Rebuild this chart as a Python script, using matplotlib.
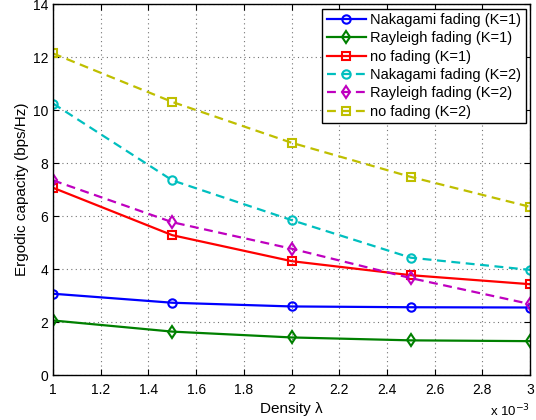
import matplotlib.pyplot as plt

plt.rcParams['font.family'] = ['Liberation Sans', 'DejaVu Sans']

# density lambda, in units of 1e-3
density = [1.0, 1.5, 2.0, 2.5, 3.0]

nakagami_k1 = [3.07, 2.73, 2.59, 2.56, 2.55]
rayleigh_k1 = [2.06, 1.64, 1.42, 1.31, 1.28]
nofading_k1 = [7.07, 5.28, 4.30, 3.77, 3.43]
nakagami_k2 = [10.25, 7.35, 5.85, 4.43, 3.97]
rayleigh_k2 = [7.35, 5.77, 4.77, 3.66, 2.68]
nofading_k2 = [12.14, 10.31, 8.77, 7.48, 6.35]

fig = plt.figure(figsize=(5.36, 4.2), dpi=100)
ax = fig.add_axes([0.099, 0.107, 0.890, 0.883])

mk = dict(markersize=6, markerfacecolor='none', markeredgewidth=1.5, linewidth=1.6)
dash = (0, (4, 2.5))
ax.plot(density, nakagami_k1, '-', marker='o', color=(0, 0, 1), label='Nakagami fading (K=1)', **mk)
ax.plot(density, rayleigh_k1, '-', marker='d', color=(0, 0.5, 0), label='Rayleigh fading (K=1)', **mk)
ax.plot(density, nofading_k1, '-', marker='s', color=(1, 0, 0), label='no fading (K=1)', **mk)
ax.plot(density, nakagami_k2, linestyle=dash, marker='o', color=(0, 0.75, 0.75), label='Nakagami fading (K=2)', **mk)
ax.plot(density, rayleigh_k2, linestyle=dash, marker='d', color=(0.75, 0, 0.75), label='Rayleigh fading (K=2)', **mk)
ax.plot(density, nofading_k2, linestyle=dash, marker='s', color=(0.75, 0.75, 0), label='no fading (K=2)', **mk)

ax.set_xlim(1, 3)
ax.set_ylim(0, 14)
ax.set_xticks([1, 1.2, 1.4, 1.6, 1.8, 2, 2.2, 2.4, 2.6, 2.8, 3])
ax.set_xticklabels(['1', '1.2', '1.4', '1.6', '1.8', '2', '2.2', '2.4', '2.6', '2.8', '3'])
ax.set_yticks(range(0, 15, 2))
ax.tick_params(direction='in', top=True, right=True, labelsize=10, length=4)
ax.tick_params(axis='x', pad=6)
ax.grid(True, linestyle=(0, (1, 3)), color='0.45', linewidth=0.8)
for s in ax.spines.values():
    s.set_linewidth(1.0)

ax.set_xlabel('Density λ', fontsize=11, labelpad=3)
ax.set_ylabel('Ergodic capacity (bps/Hz)', fontsize=11, labelpad=3)
ax.text(1.0, -0.075, 'x 10$^{-3}$', transform=ax.transAxes, ha='right', va='top', fontsize=9.5)

leg = ax.legend(loc='upper right', fontsize=10.5, fancybox=False, framealpha=1,
                edgecolor='black', borderaxespad=0.3, handlelength=2.7,
                handletextpad=0.3, labelspacing=0.3, borderpad=0.3)
leg.get_frame().set_linewidth(1.0)

plt.savefig('out.png', dpi=100)
